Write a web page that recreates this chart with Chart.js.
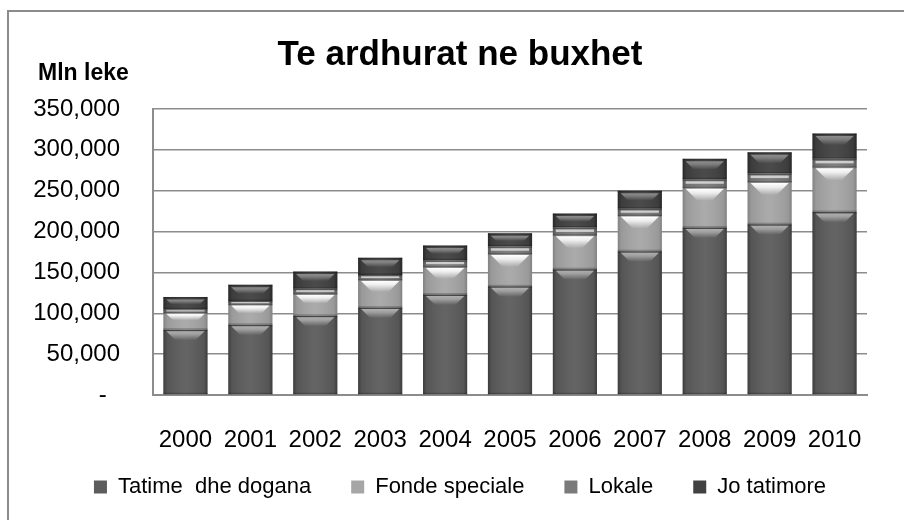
<!DOCTYPE html>
<html>
<head>
<meta charset="utf-8">
<title>Te ardhurat ne buxhet</title>
<script src="https://cdn.jsdelivr.net/npm/chart.js@4.4.1/dist/chart.umd.min.js"></script>
<style>
  html, body { margin: 0; padding: 0; background: #fff; }
  #wrap { position: relative; width: 904px; height: 520px; overflow: hidden; }
  #frame { position: absolute; left: 7px; top: 10px; right: -10px; bottom: -10px;
           border-top: 2px solid #8c8c8c; border-left: 2px solid #8c8c8c; }
  #chart { position: absolute; left: 0; top: 0; }
</style>
</head>
<body>
<div id="wrap">
  <div id="frame"></div>
  <canvas id="chart" width="904" height="520"></canvas>
</div>
<script>
// Years on the x axis
const years = ['2000', '2001', '2002', '2003', '2004', '2005', '2006', '2007', '2008', '2009', '2010'];

// Revenue parts, Mln leke
const tatimeDogana  = [80000, 86000, 97000, 107000, 123000, 133000, 154000, 176000, 205000, 209000, 224000];
const fondeSpeciale = [20000, 24000, 26000, 33000, 33000, 39000, 41000, 43000, 48000, 51000, 54000];
const lokale        = [5000, 5000, 7000, 7000, 9000, 10000, 10000, 9000, 11000, 11000, 11000];
const joTatimore    = [15000, 20000, 21000, 21000, 18000, 16000, 17000, 22000, 25000, 26000, 31000];

// Y axis ticks
const yTicks = [0, 50000, 100000, 150000, 200000, 250000, 300000, 350000];

const FONT = "'Liberation Sans', Arial, sans-serif";
Chart.defaults.font.family = FONT;
Chart.defaults.color = '#000';

// Bevel look per series: [top highlight rgb, highlight alpha, edge shade]
const bevel = [
  ['175,175,175', 1.0, 0.35],
  ['255,255,255', 1.0, 0.22],
  ['200,200,200', 0.9, 0.3],
  ['140,140,140', 1.0, 0.4],
];

// Shading + top bevel on every bar, from the bar elements' own geometry
const bevelPlugin = {
  id: 'bevel',
  afterDatasetsDraw(chart) {
    const ctx = chart.ctx;
    chart.data.datasets.forEach((ds, i) => {
      const meta = chart.getDatasetMeta(i);
      meta.data.forEach(bar => {
        const { x, y, base, width } = bar.getProps(['x', 'y', 'base', 'width'], true);
        const left = x - width / 2, right = x + width / 2;
        const top = Math.min(y, base), h = Math.abs(base - y);
        if (h < 1) return;
        const [rgb, a, s] = bevel[i];
        ctx.save();
        // darker sides
        const g = ctx.createLinearGradient(left, 0, right, 0);
        g.addColorStop(0, `rgba(0,0,0,${s})`);
        g.addColorStop(0.08, 'rgba(0,0,0,0.08)');
        g.addColorStop(0.5, 'rgba(255,255,255,0.05)');
        g.addColorStop(0.92, 'rgba(0,0,0,0.08)');
        g.addColorStop(1, `rgba(0,0,0,${s})`);
        ctx.fillStyle = g;
        ctx.fillRect(left, top, width, h);

        if (i === 2) {
          // thin band: dark rim + light line
          ctx.fillStyle = 'rgba(0,0,0,0.3)';
          ctx.fillRect(left, top, width, Math.min(1.5, h));
          ctx.fillStyle = 'rgba(215,215,215,0.9)';
          ctx.fillRect(left + 3, top + Math.min(2, h * 0.25), width - 6, Math.min(2.5, h * 0.3));
        } else {
          // top rim then fading trapezoid highlight
          const rim = i === 1 ? 0.5 : 1.5;
          ctx.fillStyle = 'rgba(0,0,0,0.25)';
          ctx.fillRect(left, top, width, Math.min(rim, h));
          const t = top + rim + (i === 3 ? 1 : 0);
          const bh = Math.min(i === 1 ? 12 : 9, h * 0.4);
          const hg = ctx.createLinearGradient(0, t, 0, t + bh);
          hg.addColorStop(0, `rgba(${rgb},${a})`);
          hg.addColorStop(0.35, `rgba(${rgb},${a * 0.8})`);
          hg.addColorStop(1, `rgba(${rgb},0)`);
          ctx.beginPath();
          ctx.moveTo(left + 3, t);
          ctx.lineTo(right - 3, t);
          ctx.lineTo(right - 3 - bh, t + bh);
          ctx.lineTo(left + 3 + bh, t + bh);
          ctx.closePath();
          ctx.fillStyle = hg;
          ctx.fill();
        }
        // dark line at the bottom of the segment
        ctx.fillStyle = 'rgba(0,0,0,0.2)';
        ctx.fillRect(left, top + h - 1.5, width, 1.5);
        ctx.restore();
      });
    });
  }
};

// Unit label above the y axis; legend nudged up to its place under the year labels
const extras = {
  id: 'extras',
  afterLayout(chart) {
    chart.legend.top -= 19;
    chart.legend.bottom -= 19;
  },
  afterDraw(chart) {
    const ctx = chart.ctx;
    ctx.save();
    ctx.font = `bold 23px ${FONT}`;
    ctx.fillStyle = '#000';
    ctx.textAlign = 'left';
    ctx.textBaseline = 'alphabetic';
    ctx.fillText('Mln leke', 38, 80);
    ctx.restore();
  }
};

new Chart(document.getElementById('chart'), {
  type: 'bar',
  data: {
    labels: years,
    datasets: [
      { label: 'Tatime  dhe dogana', data: tatimeDogana, backgroundColor: '#5c5c5c' },
      { label: 'Fonde speciale', data: fondeSpeciale, backgroundColor: '#a6a6a6' },
      { label: 'Lokale', data: lokale, backgroundColor: '#7a7a7a' },
      { label: 'Jo tatimore', data: joTatimore, backgroundColor: '#414141' },
    ],
  },
  options: {
    responsive: false,
    animation: false,
    layout: { padding: { left: 16, right: 0, top: 0, bottom: 0 } },
    datasets: { bar: { barPercentage: 0.68, categoryPercentage: 1, borderWidth: 0 } },
    plugins: {
      tooltip: { enabled: false },
      title: {
        display: true,
        text: 'Te ardhurat ne buxhet',
        color: '#000',
        font: { size: 35, weight: 'bold' },
        padding: { top: 34, bottom: 33 },
      },
      legend: {
        position: 'bottom',
        maxHeight: 65,
        labels: { font: { size: 22 }, color: '#000', boxWidth: 13, boxHeight: 13, padding: 40 },
      },
    },
    scales: {
      x: {
        stacked: true,
        grid: { display: false, drawTicks: false },
        border: { display: true, color: '#8c8c8c', width: 2 },
        ticks: { font: { size: 24 }, padding: 31, maxRotation: 0, autoSkip: false },
        afterFit(scale) { scale.height = 60; },
      },
      y: {
        stacked: true,
        min: 0,
        max: 350000,
        grid: { color: '#8c8c8c', lineWidth: 1.5, drawTicks: false },
        border: { display: true, color: '#8c8c8c', width: 2 },
        afterBuildTicks(scale) { scale.ticks = yTicks.map(v => ({ value: v })); },
        ticks: {
          font: { size: 24 },
          padding: 33,
          callback: v => (v === 0 ? '-  ' : v.toLocaleString('en-US')),
        },
        afterFit(scale) { scale.width = 137; },
      },
      // empty right-hand strip so the plot ends where the reference's does
      pad: {
        position: 'right',
        grid: { display: false, drawTicks: false },
        border: { display: false },
        ticks: { display: false },
        afterFit(scale) { scale.width = 37; },
      },
    },
  },
  plugins: [bevelPlugin, extras],
});
</script>
</body>
</html>
